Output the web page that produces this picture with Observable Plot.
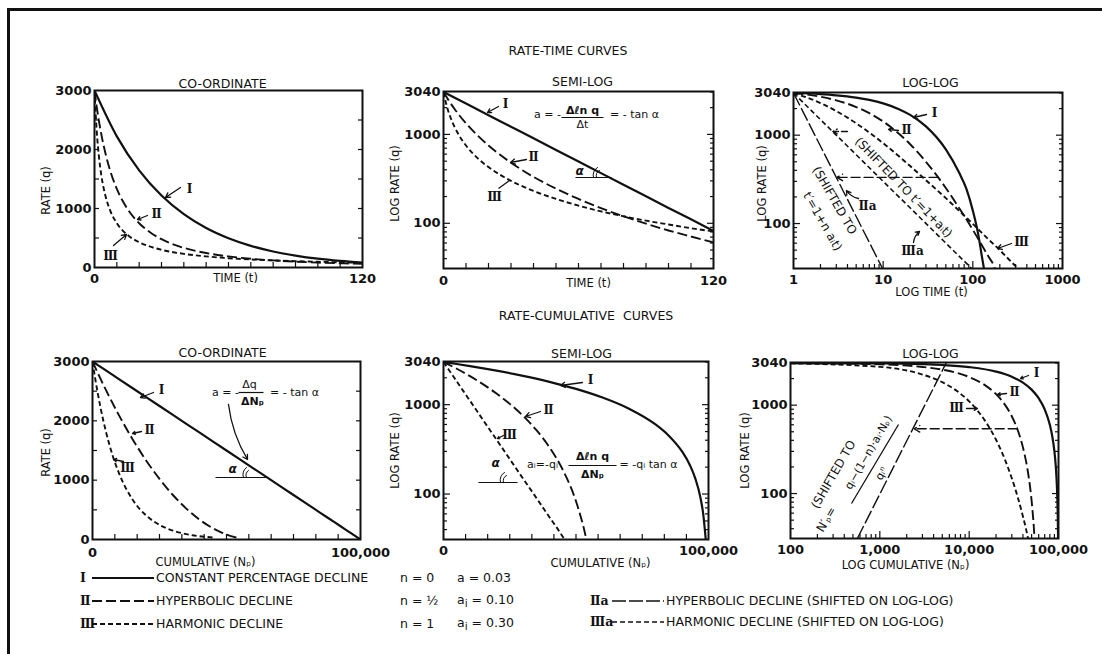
<!DOCTYPE html>
<html><head><meta charset="utf-8">
<script src="https://cdn.jsdelivr.net/npm/d3@7"></script>
<script src="https://cdn.jsdelivr.net/npm/@observablehq/plot@0.6"></script>
<style>
html,body{margin:0;padding:0;background:#fff;}
#root{position:relative;width:1102px;height:654px;overflow:hidden;font-family:"DejaVu Sans",sans-serif;color:#111;background:#fff;}
#border{position:absolute;left:7px;top:8px;width:1200px;height:800px;border-left:3px solid #111;border-top:3px solid #111;}
.abs{position:absolute;white-space:pre;line-height:1;}
.c{transform:translate(-50%,-50%);}
.sec{font-size:12.5px;}
.lg{font-size:12.5px;transform:translateY(-50%);}
.rn{font-family:"DejaVu Serif",serif;font-weight:bold;}
</style></head><body><div id="root"><div id="border"></div></div>
<script>
// ---------------- data ----------------
// Rate-time, co-ordinate and semi-log panels (time t)
const tI = [0,10,20,30,40,50,60,70,80,90,100,110,120];
const qI_t = [3000,2222,1646,1220,904,669,496,367,272,202,149,111,82];
const tII = [0,1,2,3,5,7,10,15,20,25,30,40,50,60,70,80,90,100,110,120];
const qII_t = [3000,2721,2479,2268,1920,1644,1333,980,750,593,480,333,245,188,148,120,99,83,71,61];
const tIII = [0,1,2,3,5,7,10,15,20,25,30,40,50,60,70,80,90,100,110,120];
const qIII_t = [3000,2308,1875,1579,1200,968,750,545,429,353,300,231,188,158,136,120,107,97,88,81];
// Rate-time, log-log panel
const tI_ll = [1,2,3,5,7,10,15,20,30,50,70,85,100,115,125,133];
const qI_ll = [3000,2911,2825,2660,2506,2292,1971,1697,1256,690,380,245,140,75,45,31];
const tII_ll = [1,2,3,5,7,10,15,20,30,50,70,100,120,150,170,176];
const qII_ll = [3000,2721,2479,2083,1775,1427,1038,789,500,252,151,85,62,42,34,31];
const tIII_ll = [1,2,3,5,7,10,15,20,30,50,70,100,150,200,300,321];
const qIII_ll = [3000,2308,1875,1364,1071,811,577,448,309,194,140,99,66,50,33,31];
const tIIa = [1,9.84];
const qIIa = [3000,31];
const tIIIa = [1,97];
const qIIIa = [3000,31];
// Rate-cumulative
const NpI = [0,100,1000,3000,5000,10000,20000,30000,40000,50000,60000,70000,80000,85000,90000,93000,95000,97000,98000,98967,100000];
const qI_N = [3000,2997,2970,2910,2850,2700,2400,2100,1800,1500,1200,900,600,450,300,210,150,90,60,31,0];
const NpII = [0,100,1000,3000,5000,10000,15000,20000,25000,30000,35000,40000,45000,48000,50000,52000,53000,53900];
const qII_N = [3000,2990,2901,2707,2521,2083,1687,1333,1021,750,521,333,187,120,83,53,41,31];
const NpIII = [0,100,1000,3000,5000,7500,10000,15000,20000,25000,30000,35000,40000,43000,45700];
const qIII_N = [3000,2970,2715,2222,1820,1417,1104,669,406,246,149,91,55,41,31];
const NpShift = [560,5560];
const qShift = [31,3040];
// shift arrows (value pairs)
const arrowTime = {from:41, to:3.05, q:333};
const arrowTime2 = {from:4.0, to:2.75, q:1100};
const arrowCum = {from:34500, to:2420, q:541};
// tick labels
const yLabLin = [0,1000,2000,3000];
const yLabLog = [3040,1000,100];
const xLabTime = [0,120];
const xLabLogTime = [1,10,100,1000];
const xLabCum = [0,100000];
const xLabLogCum = [100,1000,10000,100000];
// tick marks
const tickTime = [10,20,30,40,50,60,70,80,90,100,110];
const tickCum = [8333,16667,25000,33333,41667,50000,58333,66667,75000,83333,91667];
const tickLin = [500,1000,1500,2000,2500];
const tickLogMinor = [40,50,60,70,80,90,200,300,400,500,600,700,800,900,2000,3000];
const tickLogMajor = [100,1000];
const tickLogT = [2,3,4,5,6,7,8,9,20,30,40,50,60,70,80,90,200,300,400,500,600,700,800,900];
const tickLogTMajor = [10,100];
const tickLogN = [200,300,400,500,600,700,800,900,2000,3000,4000,5000,6000,7000,8000,9000,20000,30000,40000,50000,60000,70000,80000,90000];
const tickLogNMajor = [1000,10000];
// legend
const legKeys = ["Ⅰ","Ⅱ","Ⅲ"];
const legNames = ["CONSTANT PERCENTAGE DECLINE","HYPERBOLIC DECLINE","HARMONIC DECLINE"];
const legN = ["n = 0","n = ½","n = 1"];
const legA = ["a = 0.03","a<sub>i</sub> = 0.10","a<sub>i</sub> = 0.30"];
const legKeys2 = ["Ⅱa","Ⅲa"];
const legNames2 = ["HYPERBOLIC DECLINE (SHIFTED ON LOG-LOG)","HARMONIC DECLINE (SHIFTED ON LOG-LOG)"];

// ---------------- styles ----------------
const INK = "#111";
const S = {
  I:{strokeWidth:2.2},
  II:{strokeWidth:1.9, strokeDasharray:"10,4"},
  III:{strokeWidth:1.9, strokeDasharray:"5,3"},
  IIa:{strokeWidth:1.4, strokeDasharray:"14,3"},
  IIIa:{strokeWidth:1.6, strokeDasharray:"5,3"}
};

const P1 = {left:94,right:362,top:90,bottom:267,xt:"linear",xd:[0,120],yt:"linear",yd:[0,3000]};
const P2 = {left:443,right:713,top:91,bottom:268,xt:"linear",xd:[0,120],yt:"log",yd:[31,3040]};
const P3 = {left:793,right:1062,top:92,bottom:268,xt:"log",xd:[1,1000],yt:"log",yd:[31,3040]};
const P4 = {left:92,right:360,top:361,bottom:539,xt:"linear",xd:[0,100000],yt:"linear",yd:[0,3000]};
const P5 = {left:443,right:708,top:361,bottom:539,xt:"linear",xd:[0,100000],yt:"log",yd:[31,3040]};
const P6 = {left:790,right:1058,top:362,bottom:538,xt:"log",xd:[100,100000],yt:"log",yd:[31,3040]};

const root = document.getElementById("root");
const ML=75, MR=40, MT=35, MB=45;

function scaleOf(t,d,r){ return (t==="log"?d3.scaleLog():d3.scaleLinear()).domain(d).range(r); }
function inv(p, pt){ return [scaleOf(p.xt,p.xd,[p.left,p.right]).invert(pt[0]), scaleOf(p.yt,p.yd,[p.bottom,p.top]).invert(pt[1])]; }
function T(p, str, px, py, o={}){
  return Plot.text([str], {text:d=>d, frameAnchor:"top-left", dx:px-p.left, dy:py-p.top, textAnchor:"middle", lineAnchor:"middle", fontSize:11.5, fill:INK, ...o});
}
function RN(p, str, px, py, o={}){ return T(p,str,px,py,{fontFamily:"DejaVu Serif", fontWeight:"bold", fontSize:12, ...o}); }
function A(p, a, b, o={}){
  const [x1,y1]=inv(p,a), [x2,y2]=inv(p,b);
  return Plot.arrow([{x1,y1,x2,y2}], {x1:"x1",y1:"y1",x2:"x2",y2:"y2", stroke:INK, strokeWidth:1.3, headLength:6, ...o});
}
function L(p, a, b, o={}){
  const [x1,y1]=inv(p,a), [x2,y2]=inv(p,b);
  return Plot.link([{x1,y1,x2,y2}], {x1:"x1",y1:"y1",x2:"x2",y2:"y2", stroke:INK, strokeWidth:1.3, ...o});
}
function curve(p, xs, ys, style){
  const data = xs.map((x,i)=>({x, y:ys[i]})).filter(d => (p.xt!=="log"||d.x>0) && (p.yt!=="log"||d.y>0));
  return Plot.line(data, {x:"x", y:"y", curve:"monotone-x", clip:true, stroke:INK, strokeLinecap:"butt", ...style});
}
function ticksX(vals, size){ return Plot.axisX(vals, {anchor:"bottom", tickSize:size, dy:-size, tickFormat:()=>"", label:null, strokeWidth:1.2}); }
function ticksY(vals, size, anchor){ return Plot.axisY(vals, {anchor, tickSize:size, dx:anchor==="left"?size:-size, tickFormat:()=>"", label:null, strokeWidth:1.2}); }
function yLabels(vals, fmt){ return Plot.text(vals, {y:d=>d, text:fmt, frameAnchor:"left", dx:-3, textAnchor:"end", lineAnchor:"middle", fontSize:13, fontWeight:"bold", fill:INK}); }
function xLabels(vals, fmt, dy){ return Plot.text(vals, {x:d=>d, text:fmt, frameAnchor:"bottom", dy, textAnchor:"middle", lineAnchor:"middle", fontSize:13, fontWeight:"bold", fill:INK}); }
function frame(){ return Plot.frame({stroke:INK, strokeWidth:2}); }
function logYTicks(){ return [ticksY(tickLogMinor,4,"left"),ticksY(tickLogMajor,7,"left"),ticksY(tickLogMinor,4,"right"),ticksY(tickLogMajor,7,"right")]; }
function linYTicks(){ return [ticksY(tickLin,5,"left"),ticksY(tickLin,5,"right")]; }
const fmtInt = d => String(d);
const fmtComma = d => d3.format(",")(d);

function panel(p, marks){
  const svg = Plot.plot({
    width:p.right-p.left+ML+MR, height:p.bottom-p.top+MT+MB,
    marginLeft:ML, marginRight:MR, marginTop:MT, marginBottom:MB,
    x:{type:p.xt, domain:p.xd}, y:{type:p.yt, domain:p.yd},
    style:{background:"none", overflow:"visible", fontFamily:"DejaVu Sans", fontSize:"11px", color:INK},
    marks
  });
  svg.style.position="absolute"; svg.style.left=(p.left-ML)+"px"; svg.style.top=(p.top-MT)+"px";
  root.appendChild(svg);
}
function arcs(p, a, b){ return [A(p,a,b,{headLength:0,bend:40,strokeWidth:1}), A(p,[a[0]-3,a[1]],[b[0]-2,b[1]-3],{headLength:0,bend:40,strokeWidth:1})]; }

// ---------------- panel 1 : rate-time co-ordinate ----------------
panel(P1, [
  ticksX(tickTime,5), ...linYTicks(),
  curve(P1,tI,qI_t,S.I), curve(P1,tII,qII_t,S.II), curve(P1,tIII,qIII_t,S.III),
  frame(),
  yLabels(yLabLin, fmtInt), xLabels(xLabTime, fmtInt, 11),
  T(P1,"CO-ORDINATE",222,83,{fontSize:12.5}),
  T(P1,"TIME (t)",235,278,{fontSize:11.5}),
  T(P1,"RATE (q)",46,190,{fontSize:11.5, rotate:-90}),
  A(P1,[180,187],[165,197]), RN(P1,"Ⅰ",189,189),
  A(P1,[147,215],[137,219]), RN(P1,"Ⅱ",156,214),
  A(P1,[113,245],[126,234]), RN(P1,"Ⅲ",110,256)
]);

// ---------------- panel 2 : rate-time semi-log ----------------
panel(P2, [
  ticksX(tickTime,5), ...logYTicks(),
  curve(P2,tI,qI_t,S.I), curve(P2,tII,qII_t,S.II), curve(P2,tIII,qIII_t,S.III),
  frame(),
  yLabels(yLabLog, fmtInt), xLabels(xLabTime, fmtInt, 12),
  T(P2,"SEMI-LOG",582,81,{fontSize:12.5}),
  T(P2,"TIME (t)",588,283,{fontSize:11.5}),
  T(P2,"LOG RATE (q)",395,183,{fontSize:11.5, rotate:-90}),
  A(P2,[498,106],[487,112]), RN(P2,"Ⅰ",505,104),
  A(P2,[526,159],[510,162]), RN(P2,"Ⅱ",533,157),
  L(P2,[498,188],[509,180]), RN(P2,"Ⅲ",494,197),
  T(P2,"a = -",547,114,{fontSize:11}),
  T(P2,"Δℓn q",582,110,{fontSize:11, fontWeight:"bold"}),
  L(P2,[561,117],[603,117],{strokeWidth:1.2}),
  T(P2,"Δt",582,124,{fontSize:11}),
  T(P2,"= - tan α",634,114,{fontSize:11}),
  T(P2,"α",579,171,{fontSize:12, fontWeight:"bold", fontStyle:"italic"}),
  L(P2,[575,177],[611,177],{strokeWidth:1.2}),
  ...arcs(P2,[596,177],[599,170])
]);

// ---------------- panel 3 : rate-time log-log ----------------
const h3a = inv(P3,[0,0]);
panel(P3, [
  ticksX(tickLogT,4), ticksX(tickLogTMajor,7), ...logYTicks(),
  curve(P3,tI_ll,qI_ll,S.I), curve(P3,tII_ll,qII_ll,S.II), curve(P3,tIII_ll,qIII_ll,S.III),
  curve(P3,tIIa,qIIa,S.IIa), curve(P3,tIIIa,qIIIa,S.IIIa),
  Plot.arrow([arrowTime],{x1:"from",x2:"to",y1:"q",y2:"q",stroke:INK,strokeWidth:1.4,strokeDasharray:"9,4",headLength:7}),
  Plot.arrow([arrowTime2],{x1:"from",x2:"to",y1:"q",y2:"q",stroke:INK,strokeWidth:1.4,strokeDasharray:"6,3",headLength:6}),
  frame(),
  yLabels(yLabLog, fmtInt), xLabels(xLabLogTime, fmtInt, 11),
  T(P3,"LOG-LOG",930,82,{fontSize:12.5}),
  T(P3,"LOG TIME (t)",931,292,{fontSize:11.5}),
  T(P3,"LOG RATE (q)",762,183,{fontSize:11.5, rotate:-90}),
  A(P3,[926,114],[913,117]), RN(P3,"Ⅰ",934,113),
  A(P3,[898,130],[888,129]), RN(P3,"Ⅱ",906,130),
  T(P3,"(SHIFTED TO t′=1+aᵢt)",903,187,{fontSize:12, rotate:46}),
  T(P3,"(SHIFTED TO",834,200,{fontSize:12, rotate:60}),
  T(P3,"t′=1+n aᵢt)",822,221,{fontSize:12, rotate:60}),
  RN(P3,"Ⅱa",867,206), A(P3,[858,198],[846,190],{bend:true}),
  RN(P3,"Ⅲa",912,251), A(P3,[913,242],[919,231],{bend:true}),
  RN(P3,"Ⅲ",1021,242), A(P3,[1011,243],[997,248])
]);

// ---------------- panel 4 : rate-cumulative co-ordinate ----------------
panel(P4, [
  ticksX(tickCum,5), ...linYTicks(),
  curve(P4,NpI,qI_N,S.I), curve(P4,NpII,qII_N,S.II), curve(P4,NpIII,qIII_N,S.III),
  frame(),
  yLabels(yLabLin, fmtInt), xLabels(xLabCum, fmtComma, 13),
  T(P4,"CO-ORDINATE",222,352,{fontSize:12.5}),
  T(P4,"CUMULATIVE (Nₚ)",205,562,{fontSize:11.5}),
  T(P4,"RATE (q)",46,452,{fontSize:11.5, rotate:-90}),
  A(P4,[153,392],[140,397]), RN(P4,"Ⅰ",161,390),
  A(P4,[141,431],[132,433]), RN(P4,"Ⅱ",149,430),
  A(P4,[123,461],[113,459]), RN(P4,"Ⅲ",127,468),
  T(P4,"a = -",225,392,{fontSize:11}),
  T(P4,"Δq",249,384,{fontSize:11}),
  L(P4,[238,392],[263,392],{strokeWidth:1.2}),
  T(P4,"ΔNₚ",252,401,{fontSize:11, fontWeight:"bold"}),
  T(P4,"= - tan α",294,392,{fontSize:11}),
  A(P4,[228,404],[247,459],{bend:-12, headLength:6}),
  T(P4,"α",232,469,{fontSize:12, fontWeight:"bold", fontStyle:"italic"}),
  L(P4,[215,477],[266,477],{strokeWidth:1.2}),
  ...arcs(P4,[246,477],[248,470])
]);

// ---------------- panel 5 : rate-cumulative semi-log ----------------
panel(P5, [
  ticksX(tickCum,5), ...logYTicks(),
  curve(P5,NpI,qI_N,S.I), curve(P5,NpII,qII_N,S.II), curve(P5,NpIII,qIII_N,S.III),
  frame(),
  yLabels(yLabLog, fmtInt), xLabels(xLabCum, fmtComma, 11),
  T(P5,"SEMI-LOG",581,353,{fontSize:12.5}),
  T(P5,"CUMULATIVE (Nₚ)",600,563,{fontSize:11.5}),
  T(P5,"LOG RATE (q)",395,450,{fontSize:11.5, rotate:-90}),
  A(P5,[582,382],[560,385]), RN(P5,"Ⅰ",590,380),
  A(P5,[540,411],[525,416]), RN(P5,"Ⅱ",548,410),
  A(P5,[503,435],[497,438]), RN(P5,"Ⅲ",509,435),
  T(P5,"α",495,463,{fontSize:12, fontWeight:"bold", fontStyle:"italic"}),
  L(P5,[478,482],[517,482],{strokeWidth:1.2}),
  ...arcs(P5,[503,482],[506,475]),
  T(P5,"aᵢ=-qᵢ",542,464,{fontSize:11}),
  T(P5,"Δℓn q",592,456,{fontSize:11, fontWeight:"bold"}),
  L(P5,[568,465],[616,465],{strokeWidth:1.2}),
  T(P5,"ΔNₚ",592,474,{fontSize:11, fontWeight:"bold"}),
  T(P5,"= -qᵢ tan α",648,464,{fontSize:11})
]);

// ---------------- panel 6 : rate-cumulative log-log ----------------
panel(P6, [
  ticksX(tickLogN,4), ticksX(tickLogNMajor,7), ...logYTicks(),
  curve(P6,NpI,qI_N,S.I), curve(P6,NpII,qII_N,S.II), curve(P6,NpIII,qIII_N,S.III),
  curve(P6,NpShift,qShift,S.IIa),
  Plot.arrow([arrowCum],{x1:"from",x2:"to",y1:"q",y2:"q",stroke:INK,strokeWidth:1.4,strokeDasharray:"9,4",headLength:7}),
  frame(),
  yLabels(yLabLog, fmtInt), xLabels(xLabLogCum, fmtComma, 11),
  T(P6,"LOG-LOG",930,353,{fontSize:12.5}),
  T(P6,"LOG CUMULATIVE (Nₚ)",905,565,{fontSize:11.5}),
  T(P6,"LOG RATE (q)",745,450,{fontSize:11.5, rotate:-90}),
  A(P6,[1028,375],[1020,378]), RN(P6,"Ⅰ",1036,373),
  A(P6,[1006,393],[997,394]), RN(P6,"Ⅱ",1014,392),
  A(P6,[966,408],[977,408]), RN(P6,"Ⅲ",956,408),
  T(P6,"(SHIFTED TO",833,474,{fontSize:12, rotate:-60}),
  T(P6,"N′ₚ=",826,519,{fontSize:12, rotate:-60}),
  T(P6,"qᵢ−(1−n)·aᵢ·Nₚ)",868,452,{fontSize:11, rotate:-60}),
  L(P6,[851,503],[898,424],{strokeWidth:1.3}),
  T(P6,"qᵢⁿ",881,473,{fontSize:11, rotate:-60})
]);

// ---------------- section titles ----------------
function div(html, cls, x, y){ const d=document.createElement("div"); d.className="abs "+cls; d.style.left=x+"px"; d.style.top=y+"px"; d.innerHTML=html; root.appendChild(d); return d; }
div("RATE-TIME CURVES","c sec",568,51);
div("RATE-CUMULATIVE  CURVES","c sec",586,316);

// ---------------- legend ----------------
function swatch(x, y, w, style){
  const ns="http://www.w3.org/2000/svg";
  const s=document.createElementNS(ns,"svg"); s.setAttribute("width",w); s.setAttribute("height",8);
  s.style.position="absolute"; s.style.left=x+"px"; s.style.top=(y-4)+"px"; s.style.overflow="visible";
  const l=document.createElementNS(ns,"line"); l.setAttribute("x1",0); l.setAttribute("x2",w); l.setAttribute("y1",4); l.setAttribute("y2",4);
  l.setAttribute("stroke",INK); l.setAttribute("stroke-width",style.strokeWidth);
  if(style.strokeDasharray) l.setAttribute("stroke-dasharray",style.strokeDasharray);
  s.appendChild(l); root.appendChild(s);
}
const legRows = [578,601,624];
const legStyles = [S.I,S.II,S.III];
legKeys.forEach((k,i)=>{
  const y=legRows[i];
  div(k,"lg rn",80,y);
  swatch(k.length>1?96:92, y, k.length>1?58:62, legStyles[i]);
  div(legNames[i],"lg",156,y);
  div(legN[i],"lg",400,y);
  div(legA[i],"lg",457,y);
});
const legRows2 = [601,622];
const legStyles2 = [S.IIa,S.IIIa];
legKeys2.forEach((k,i)=>{
  const y=legRows2[i];
  div(k,"lg rn",590,y);
  swatch(612, y, 52, legStyles2[i]);
  div(legNames2[i],"lg",666,y);
});
</script></body></html>
